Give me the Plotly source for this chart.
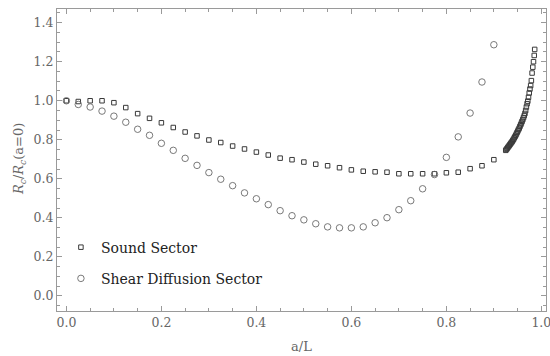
import plotly.graph_objects as go

# Sound sector (squares)
sound_x = [0.0, 0.025, 0.05, 0.075, 0.1, 0.125, 0.15, 0.175, 0.2, 0.225, 0.25, 0.275, 0.3, 0.325,
           0.35, 0.375, 0.4, 0.425, 0.45, 0.475, 0.5, 0.525, 0.55, 0.575, 0.6, 0.625, 0.65, 0.675,
           0.7, 0.725, 0.75, 0.775, 0.8, 0.825, 0.85, 0.875, 0.9,
           0.925, 0.9265, 0.928, 0.9295, 0.931, 0.9325, 0.934, 0.9355, 0.937, 0.9385, 0.94, 0.9415,
           0.943, 0.9445, 0.946, 0.9475, 0.949, 0.9505, 0.952, 0.9535, 0.955, 0.9565, 0.958, 0.9595,
           0.961, 0.9625, 0.964, 0.9655, 0.967, 0.9685, 0.97, 0.9715, 0.973, 0.9745, 0.976, 0.9775,
           0.979, 0.9805, 0.982, 0.9835, 0.985, 0.986]
sound_y = [1.0, 0.996, 1.0, 1.0, 0.99, 0.965, 0.934, 0.91, 0.887, 0.863, 0.84, 0.82, 0.799, 0.786,
           0.768, 0.753, 0.737, 0.722, 0.706, 0.698, 0.686, 0.675, 0.667, 0.657, 0.646, 0.639, 0.636,
           0.634, 0.626, 0.626, 0.626, 0.626, 0.631, 0.634, 0.652, 0.667, 0.698,
           0.746, 0.751, 0.756, 0.761, 0.766, 0.771, 0.776, 0.781, 0.786, 0.791, 0.797, 0.803,
           0.81, 0.816, 0.823, 0.83, 0.838, 0.845, 0.853, 0.86, 0.869, 0.877, 0.886, 0.895,
           0.904, 0.914, 0.924, 0.935, 0.95, 0.968, 0.985, 0.998, 1.018, 1.04, 1.06, 1.078,
           1.103, 1.142, 1.172, 1.2, 1.232, 1.263]

# Shear diffusion sector (circles)
shear_x = [0.0, 0.025, 0.05, 0.075, 0.1, 0.125, 0.15, 0.175, 0.2, 0.225, 0.25, 0.275, 0.3, 0.325,
           0.35, 0.375, 0.4, 0.425, 0.45, 0.475, 0.5, 0.525, 0.55, 0.575, 0.6, 0.625, 0.65, 0.675,
           0.7, 0.725, 0.75, 0.775, 0.8, 0.825, 0.85, 0.875, 0.9]
shear_y = [1.0, 0.981, 0.968, 0.947, 0.921, 0.89, 0.854, 0.823, 0.782, 0.746, 0.705, 0.669, 0.632,
           0.598, 0.565, 0.528, 0.498, 0.468, 0.437, 0.411, 0.39, 0.37, 0.354, 0.349, 0.349, 0.354,
           0.375, 0.401, 0.442, 0.488, 0.549, 0.622, 0.71, 0.815, 0.937, 1.096, 1.287]

x_ticks = [0.0, 0.2, 0.4, 0.6, 0.8, 1.0]
y_ticks = [0.0, 0.2, 0.4, 0.6, 0.8, 1.0, 1.2, 1.4]

FONT = "DejaVu Serif"
AXIS_COL = "#9a9a9a"
TEXT_COL = "#666666"

W, H = 550, 356
ML, MR, MT, MB = 57, 4, 9, 45

fig = go.Figure()
fig.add_trace(go.Scatter(
    x=sound_x, y=sound_y, mode="markers", name="Sound Sector", legendgroup="a",
    marker=dict(symbol="square-open", size=4.5, color="#3a3a3a", line=dict(width=1))))
fig.add_trace(go.Scatter(
    x=shear_x, y=shear_y, mode="markers", name="Shear Diffusion Sector", legendgroup="b",
    marker=dict(symbol="circle-open", size=6.5, color="#6a6a6a", line=dict(width=0.9))))

axis_common = dict(
    showline=True, linecolor=AXIS_COL, linewidth=1, mirror="allticks",
    ticks="inside", ticklen=5, tickcolor=AXIS_COL, showgrid=False, zeroline=False,
    automargin=False, ticklabeloverflow="allow",
    tickfont=dict(family=FONT, size=12.5, color=TEXT_COL),
)

pw = W - ML - MR
ph = H - MT - MB

fig.update_layout(
    width=W, height=H,
    margin=dict(l=ML, r=MR, t=MT, b=MB),
    paper_bgcolor="white", plot_bgcolor="white",
    font=dict(family=FONT, color=TEXT_COL),
    showlegend=True,
    legend=dict(x=0.008, y=0.263, xanchor="left", yanchor="top",
                bgcolor="rgba(0,0,0,0)", tracegroupgap=10,
                font=dict(family=FONT, size=14, color="#222222")),
    xaxis=dict(range=[-0.0198, 1.0098], tickvals=x_ticks,
               ticktext=[f"{v:.1f}" for v in x_ticks],
               minor=dict(dtick=0.05, tick0=0, ticks="inside", ticklen=3, tickcolor=AXIS_COL),
               **axis_common),
    yaxis=dict(range=[-0.077, 1.47], tickvals=y_ticks,
               ticktext=[f"{v:.1f}" for v in y_ticks],
               minor=dict(dtick=0.05, tick0=0, ticks="inside", ticklen=3, tickcolor=AXIS_COL),
               **axis_common),
    annotations=[
        dict(text="a/L", xref="paper", yref="paper",
             x=(301 - ML) / pw, y=-(346 - (H - MB)) / ph,
             xanchor="center", yanchor="middle", showarrow=False,
             font=dict(family=FONT, size=13, color=TEXT_COL)),
        dict(text="<i>R</i><sub><i>c</i></sub>/<i>R</i><sub><i>c</i></sub>(a=0)",
             xref="paper", yref="paper",
             x=-(ML - 19) / pw, y=((H - MB) - 159) / ph,
             xanchor="center", yanchor="middle", textangle=-90, showarrow=False,
             font=dict(family=FONT, size=13, color=TEXT_COL)),
    ],
)

fig.write_html("out.html", config={"displayModeBar": False},
               post_script="document.body.style.margin='0';")
